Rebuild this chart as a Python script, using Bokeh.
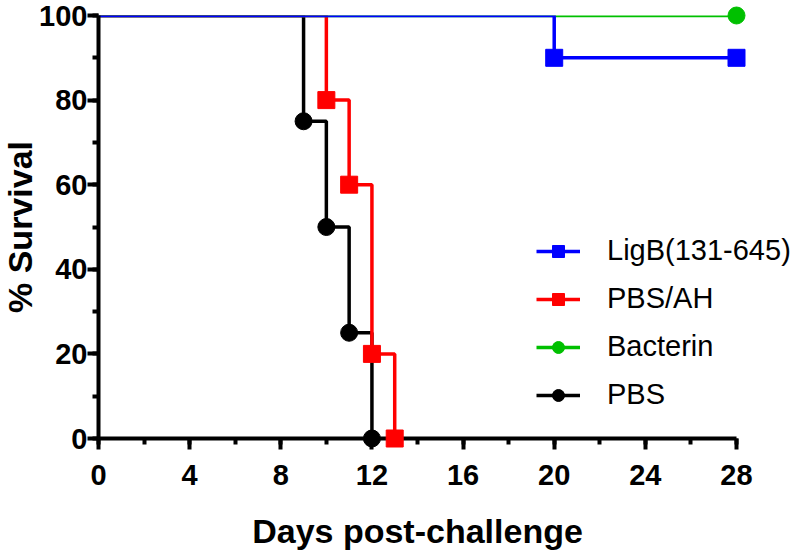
import math
from bokeh.plotting import figure
from bokeh.models import Range1d, Legend, LegendItem, FixedTicker
from bokeh.core.properties import value
from bokeh.embed import file_html
from bokeh.resources import INLINE

# Kaplan-Meier survival data (day, % survival)
ligb_t = [0, 20, 28]
ligb_s = [100, 90, 90]
pbsah_t = [0, 10, 11, 12, 13]
pbsah_s = [100, 80, 60, 20, 0]
bact_t = [0, 28]
bact_s = [100, 100]
pbs_t = [0, 9, 10, 11, 12]
pbs_s = [100, 75, 50, 25, 0]

x_ticks = [0, 4, 8, 12, 16, 20, 24, 28]
y_ticks = [0, 20, 40, 60, 80, 100]
X_MAX = 28
Y_MAX = 100
x_title = "Days post-challenge"
y_title = "% Survival"

FONT = "Liberation Sans"

W, H = 800, 552
LEFT, RIGHT, TOP, BOTTOM = 98, 2, 15, 114
AXIS_PX = 638  # screen length of the 0..28 axis
frame_w = W - LEFT - RIGHT
frame_h = H - TOP - BOTTOM
px_x = AXIS_PX / X_MAX      # pixels per day
px_y = frame_h / Y_MAX      # pixels per % point

p = figure(width=W, height=H, output_backend="svg", toolbar_location=None,
           x_range=Range1d(0, frame_w / px_x), y_range=Range1d(0, Y_MAX),
           min_border_left=LEFT, min_border_right=RIGHT, min_border_top=TOP,
           min_border_bottom=BOTTOM)
p.grid.visible = False
p.outline_line_color = None
p.background_fill_color = "white"
p.border_fill_color = "white"

series = [
    ("PBS", pbs_t, pbs_s, "black", "circle"),
    ("PBS/AH", pbsah_t, pbsah_s, "#ff0000", "square"),
    ("Bacterin", bact_t, bact_s, "#00c000", "circle"),
    ("LigB(131-645)", ligb_t, ligb_s, "#0000ff", "square"),
]

items = {}
for name, t, s, col, mk in series:
    ln = p.step(t, s, mode="after", line_color=col, line_width=3.5)
    sc = p.scatter(t[1:], s[1:], marker=mk, size=17, fill_color=col, line_color=col,
                   level="overlay")
    items[name] = LegendItem(label=name, renderers=[ln, sc])

order = ["LigB(131-645)", "PBS/AH", "Bacterin", "PBS"]
legend = Legend(items=[items[k] for k in order], location=(438, 27),
                padding=0, margin=0, border_line_color=None, background_fill_alpha=0,
                glyph_width=44, glyph_height=30, label_height=30, spacing=15,
                label_standoff=27, label_text_font=FONT, label_text_font_size="29px",
                label_text_color="black", level="overlay")
p.add_layout(legend, "center")

for ax in (p.xaxis[0], p.yaxis[0]):
    ax.axis_line_width = 4
    ax.axis_line_color = "black"
    ax.major_tick_line_width = 4
    ax.minor_tick_line_width = 4
    ax.major_tick_out = 11
    ax.major_tick_in = 0
    ax.minor_tick_out = 6
    ax.minor_tick_in = 0
    ax.major_label_text_font = FONT
    ax.major_label_text_font_style = "bold"
    ax.major_label_text_font_size = "29px"
    ax.major_label_text_color = "black"

p.xaxis.bounds = (0, X_MAX)
p.xaxis.ticker = FixedTicker(ticks=x_ticks, minor_ticks=list(range(0, X_MAX + 1, 2)))
p.yaxis.ticker = FixedTicker(ticks=y_ticks, minor_ticks=list(range(0, Y_MAX + 1, 10)))
p.xaxis.major_label_standoff = 15
p.yaxis.major_label_standoff = 0

# axis titles: x title centred under the 0..28 axis, y title left of tick labels
XT_BELOW_PX = 92   # distance of x-title centre below the x axis
YT_LEFT_PX = 79    # distance of y-title centre left of the y axis
p.text(x=[X_MAX / 2], y=[-XT_BELOW_PX / px_y], text=[x_title],
       text_align="center", text_baseline="middle",
       text_font=value(FONT), text_font_style="bold", text_font_size="34px",
       text_color="black", level="overlay")
p.text(x=[-YT_LEFT_PX / px_x], y=[Y_MAX / 2], text=[y_title], angle=math.pi / 2,
       text_align="center", text_baseline="middle",
       text_font=value(FONT), text_font_style="bold", text_font_size="34px",
       text_color="black", level="overlay")

open("out.html", "w").write(file_html(p, INLINE))
